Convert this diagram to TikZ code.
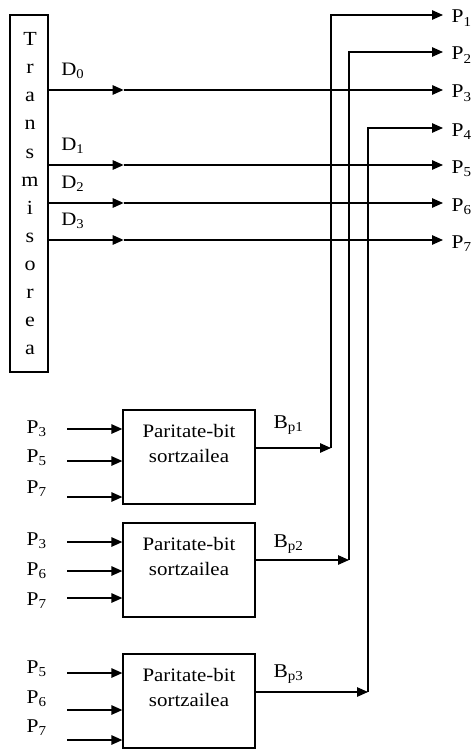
\documentclass[tikz,border=0pt]{standalone}
\usepackage{fontspec}
\setmainfont{Liberation Serif}[FakeStretch=1.1]
\usetikzlibrary{arrows.meta,positioning,calc}

\begin{document}
\begin{tikzpicture}[
    x=1pt, y=-1pt,
    line width=1.3pt,
    arr/.style={-{Triangle[length=11pt,width=9.5pt]}},
    chr/.style={font=\fontsize{20}{20}\selectfont, inner sep=0pt, anchor=base},
    plbl/.style={font=\fontsize{19.5}{20}\selectfont, inner sep=0pt, anchor=base west},
    dlbl/.style={font=\fontsize{19}{20}\selectfont, inner sep=0pt, anchor=base west},
    genbox/.style={draw, minimum width=132pt, minimum height=94pt, inner sep=0pt},
    gtxt/.style={font=\fontsize{19}{25}\selectfont, align=center, inner sep=0pt}
]
\useasboundingbox (0,0) rectangle (474,749);

%, Transmitter ---
\node[draw, minimum width=38pt, minimum height=357pt, inner sep=0pt] (tx) at (29,193.5) {};
\foreach \c [count=\i] in {T,r,a,n,s,m,i,s,o,r,e,a} {
    \node[chr] (ch\i) at (30, 18+28*\i) {\c};
}

%, Output rows P1..P7 ---
\foreach \i/\y in {1/15,2/52,3/90,4/128,5/165,6/203,7/240} {
    \coordinate (t\i) at (443,\y);
    \node[plbl] (p\i) at (451,\y+8) {P\textsubscript{\i}};
}

%, Data lines D0..D3 ---
\foreach \k/\i in {0/3,1/5,2/6,3/7} {
    \draw[arr] (tx.east |- t\i) -- ++(75,0) coordinate (m\k);
    \draw[arr] (m\k) -- (t\i);
    \node[dlbl] (d\k) at ([xshift=12pt,yshift=14.5pt]tx.east |- t\i) {D\textsubscript{\k}};
}

%, Parity generators ---
\foreach \g/\y in {1/457,2/570,3/701} {
    \node[genbox] (g\g) at (189,\y) {};
    \node[gtxt] (gt\g) at ([yshift=14pt]g\g.center) {Paritate-bit\\sortzailea};
}

% Inputs
\foreach \g/\n/\ya/\yb in {1/3/429/433, 1/5/461/462, 1/7/497/493,
                           2/3/542/545, 2/6/571/575, 2/7/598/605,
                           3/5/673/673, 3/6/710/703, 3/7/740/732} {
    \node[plbl] (i\g\n) at (26,\yb) {P\textsubscript{\n}};
    \coordinate (s\g\n) at (67,\ya);
    \draw[arr] (s\g\n) -- (s\g\n -| g\g.west);
}

% Outputs Bp1..Bp3 back to P1, P2, P4
\foreach \g/\y/\v/\i/\yb in {1/448/331/1/428, 2/560/349/2/547, 3/692/368/4/677} {
    \coordinate (c\g) at (\v,\y);
    \draw[arr] (g\g.east |- c\g) -- (c\g);
    \draw[arr] (c\g) |- (t\i);
    \node[plbl] (bp\g) at (273,\yb) {B\textsubscript{p\g}};
}
\end{tikzpicture}
\end{document}
